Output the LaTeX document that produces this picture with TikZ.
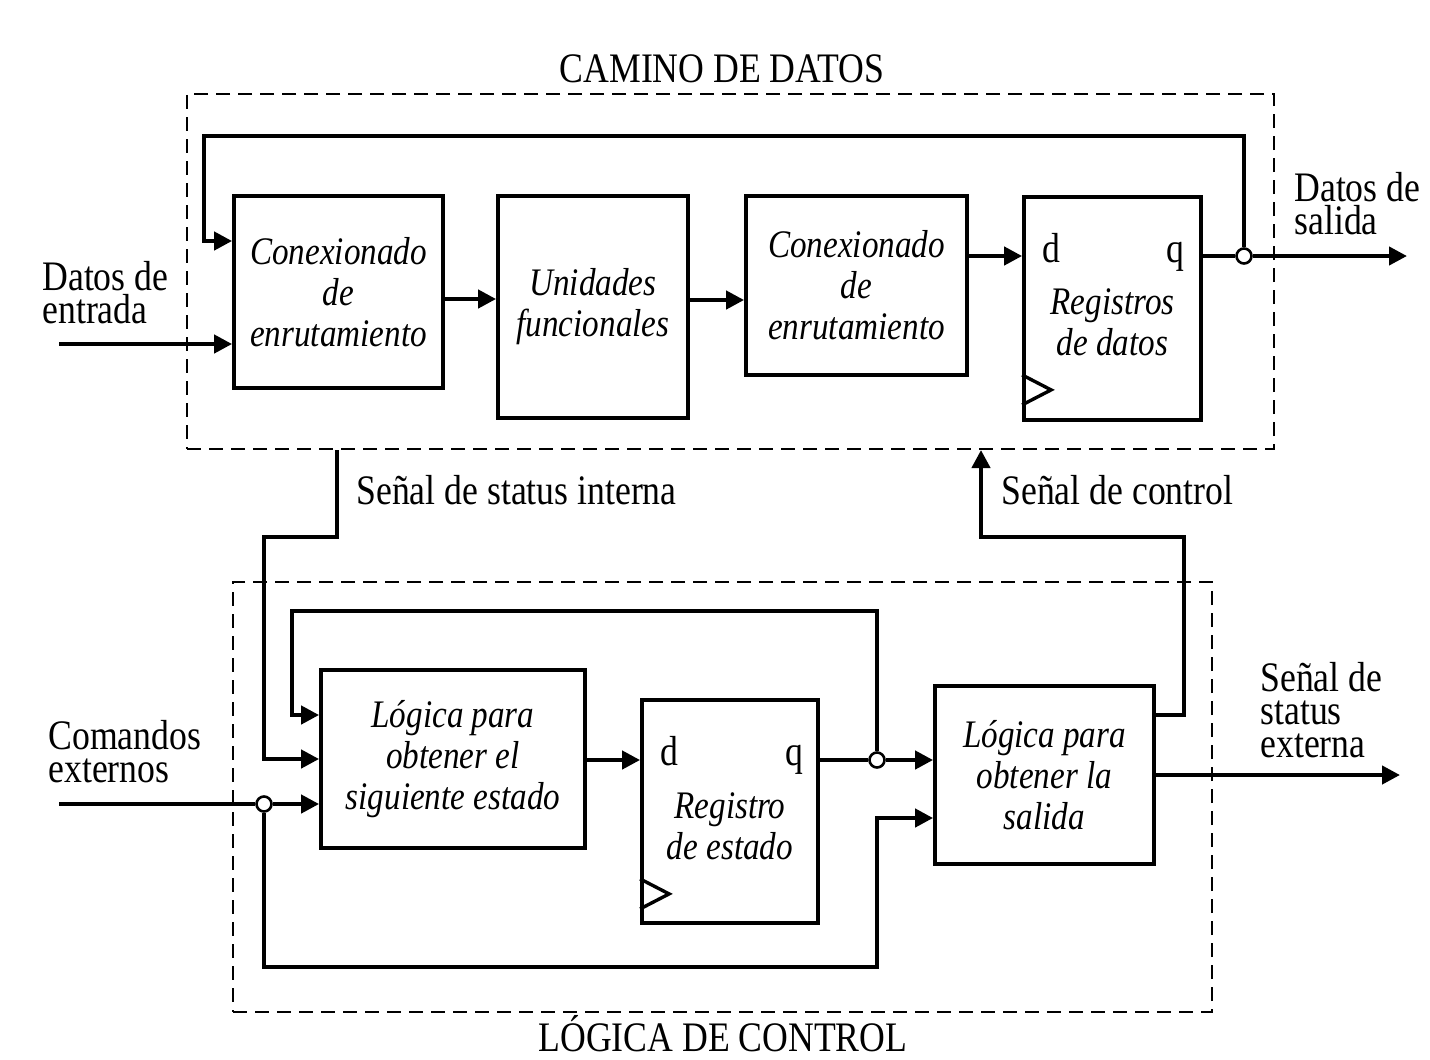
\documentclass[tikz,border=0pt]{standalone}
\usepackage{fontspec}
\setmainfont[FakeStretch=0.85]{Liberation Serif}
\usetikzlibrary{arrows.meta,calc}
\newcommand{\lblfont}{\fontsize{21}{16.5}\selectfont}
\newcommand{\boxfont}{\itshape\fontsize{19.5}{20.5}\selectfont}
\begin{document}
\begin{tikzpicture}[x=0.5pt,y=-0.5pt,
  blk/.style={draw, line width=1.9pt, inner sep=0pt, align=center, font=\boxfont},
  blktxt/.style={inner sep=0pt, align=center, font=\boxfont},
  grp/.style={draw, dash pattern=on 7pt off 4pt, line width=1pt, inner sep=0pt},
  lbl/.style={inner sep=0pt, align=left, font=\lblfont},
  sig/.style={line width=2.1pt, -{Triangle[length=9pt,width=9pt]}},
  wire/.style={line width=2.1pt},
  jn/.style={circle, draw, fill=white, line width=1.3pt, inner sep=0pt, minimum size=7.5pt},
  clk/.style={line width=1.7pt}]
\useasboundingbox (0,0) rectangle (1430,1060);
% frames
\node[grp, minimum width=543.5pt, minimum height=177.5pt] (dp) at (730.5,271.5){};
\node[grp, minimum width=489.5pt, minimum height=215pt] (lc) at (722.5,797){};
\node[lbl, anchor=base] (tdp) at (722,82){CAMINO DE DATOS};
\node[lbl, anchor=base] (tlc) at (723,1051){LÓGICA DE CONTROL};
% datapath
\node[blk, minimum width=104.5pt, minimum height=96pt] (cnx1) at (338.5,292){Conexionado\\de\\enrutamiento};
\node[blk, minimum width=95pt, minimum height=111pt] (unid) at (593,307){Unidades\\funcionales};
\node[blk, minimum width=110.5pt, minimum height=89.5pt] (cnx2) at (856.5,285.5){Conexionado\\de\\enrutamiento};
\node[blk, minimum width=88.5pt, minimum height=111.5pt] (regd) at (1112.5,308.5){};
\node[blktxt] (regdt) at ($(regd.center)+(0,14)$){Registros\\de datos};
\node[lbl, anchor=base west] (d1) at ([xshift=10pt,yshift=-33.5pt]regd.north west){d};
\node[lbl, anchor=base east] (q1) at ([xshift=-9pt,yshift=-33.5pt]regd.north east){q};
\draw[clk] ([yshift=8.5pt]regd.south west) -- ++(29,-15) -- ++(-29,-15);
\node[jn] (j1) at (1244,256){};
\coordinate (din) at (59,344);
\coordinate (dout) at (1407,256);
\node[lbl, anchor=west] (ldin) at (42,293){Datos de\\entrada};
\node[lbl, anchor=west] (ldout) at (1294,204){Datos de\\salida};
\draw[sig] (din) -- (cnx1.west |- din);
\draw[sig] (j1.north) |- (204,136) |- (cnx1.west |- 0,241);
\draw[sig] (cnx1.east |- 0,299) -- (unid.west |- 0,299);
\draw[sig] (unid.east |- 0,300) -- (cnx2.west |- 0,300);
\draw[sig] (cnx2.east |- j1) -- (regd.west |- j1);
\draw[wire] (regd.east |- j1) -- (j1.west);
\draw[sig] (j1.east) -- (dout);
% control logic
\node[blk, minimum width=132pt, minimum height=89pt] (lsig) at (453,759){Lógica para\\obtener el\\siguiente estado};
\node[blk, minimum width=88pt, minimum height=111.5pt] (rege) at (730,811.5){};
\node[blktxt] (reget) at ($(rege.center)+(0,15)$){Registro\\de estado};
\node[lbl, anchor=base west] (d2) at ([xshift=10pt,yshift=-33.5pt]rege.north west){d};
\node[lbl, anchor=base east] (q2) at ([xshift=-8pt,yshift=-33.5pt]rege.north east){q};
\draw[clk] ([yshift=8pt]rege.south west) -- ++(29,-15) -- ++(-29,-15);
\node[blk, minimum width=109.5pt, minimum height=89pt] (lsal) at (1044.5,775){Lógica para\\obtener la\\salida};
\node[jn] (j2) at (877,760){};
\node[jn] (j3) at (264,804){};
\coordinate (cmd) at (59,804);
\coordinate (sout) at (1400,775);
\node[lbl, anchor=west] (lcmd) at (48,752){Comandos\\externos};
\node[lbl, anchor=west] (lsout) at (1260,710){Señal de\\status\\externa};
\draw[wire] (cmd) -- (j3.west);
\draw[sig] (j3.east) -- (lsig.west |- j3);
\draw[sig] (j3.south) |- (877,967) |- (lsal.west |- 0,818);
\draw[sig] (lsig.east |- j2) -- (rege.west |- j2);
\draw[wire] (rege.east |- j2) -- (j2.west);
\draw[sig] (j2.east) -- (lsal.west |- j2);
\draw[sig] (j2.north) |- (292,611) |- (lsig.west |- 0,715);
\draw[sig] (lsal.east |- sout) -- (sout);
% between the two
\node[lbl, anchor=base west] (sint) at (356,504){Señal de status interna};
\node[lbl, anchor=base west] (sctl) at (1001,504){Señal de control};
\draw[sig] (dp.south -| 337,0) |- (264,537) |- (lsig.west |- 0,759);
\draw[sig] (lsal.east |- 0,715) -| (1184,537) -| (dp.south -| 981,0);
\end{tikzpicture}
\end{document}
